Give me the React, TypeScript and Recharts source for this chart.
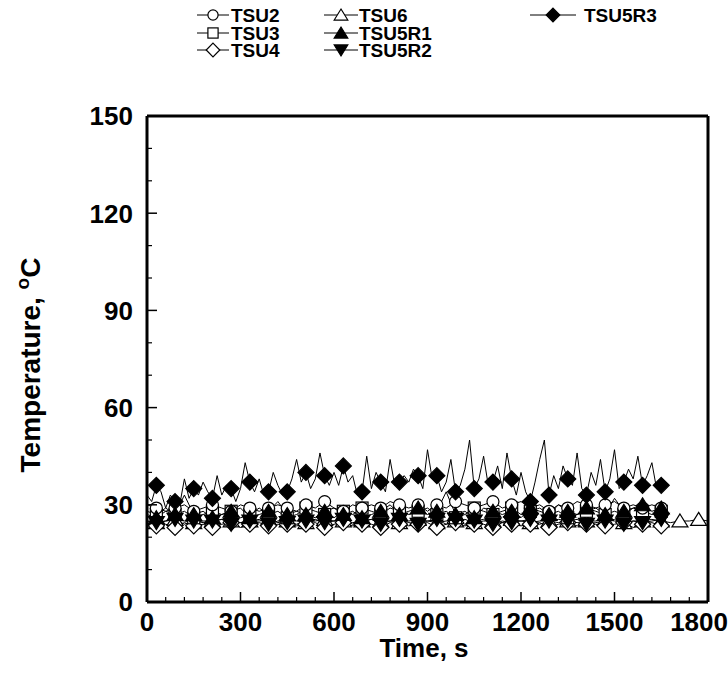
import React from 'react'
import { LineChart, Line, XAxis, YAxis } from 'recharts'

// sampling intervals of the logged traces (s)
const FINE_STEP = 15
const COARSE_STEP = 30

const xTicks = [0, 300, 600, 900, 1200, 1500, 1800]
const yTicks = [0, 30, 60, 90, 120, 150]
const xMinorTicks = Array.from({ length: 31 }, (_, i) => i * 60)
const yMinorTicks = Array.from({ length: 16 }, (_, i) => i * 10)

// TSU5R3 – fast, noisy trace (15 s samples, 0..1650 s)
const tsu5r3 = [
  33, 31, 36, 34, 29, 33, 31, 30, 38, 32, 35, 33, 37, 34, 32, 39,
  33, 36, 35, 31, 35, 43, 37, 34, 38, 33, 34, 40, 36, 33, 34, 38,
  44, 37, 40, 35, 38, 46, 39, 36, 40, 36, 42, 37, 39, 33, 34, 45,
  35, 40, 37, 34, 44, 36, 37, 39, 37, 41, 39, 35, 47, 38, 39, 34,
  37, 44, 34, 36, 41, 50, 35, 38, 45, 36, 37, 42, 35, 46, 38, 33,
  40, 34, 31, 37, 44, 50, 33, 39, 35, 42, 38, 36, 46, 35, 33, 40,
  36, 44, 34, 38, 47, 35, 37, 41, 38, 45, 36, 39, 43, 35, 36,
]

// 30 s samples, 0..1650 s
const tsu2 = [
  30, 29, 28, 29, 30, 28, 29, 30,
  29, 28, 30, 29, 28, 29, 30, 29,
  28, 30, 29, 31, 29, 28, 30, 29,
  30, 29, 31, 30, 29, 30, 28, 30,
  29, 31, 30, 29, 30, 31, 29, 30,
  31, 29, 30, 28, 30, 29, 31, 30,
  29, 30, 31, 29, 30, 29, 30, 29,
]
const tsu3 = [
  28, 27, 29, 27, 28, 26, 27, 28,
  27, 28, 26, 27, 29, 27, 28, 26,
  27, 29, 28, 27, 26, 28, 27, 29,
  28, 27, 29, 28, 27, 28, 29, 27,
  28, 26, 27, 29, 28, 27, 28, 29,
  27, 28, 29, 27, 28, 26, 27, 28,
  29, 27, 28, 27, 29, 28, 27, 28,
]
const tsu4 = [
  24, 23.5, 24, 23, 24.5, 23.5, 24, 23,
  24, 24.5, 23, 24, 24.5, 23.5, 24, 24,
  23.5, 24, 24.5, 23, 24, 24.5, 23.5, 24,
  24, 23, 24.5, 24, 23.5, 24, 24.5, 23,
  24, 24.5, 23.5, 24, 24, 23, 24.5, 24,
  23.5, 24, 24.5, 23, 24, 24.5, 23.5, 24,
  24, 23.5, 24, 24.5, 23, 24, 24.5, 23.5,
]
const tsu5r1 = [
  27, 26, 28, 27, 33, 27, 28, 26,
  27, 28, 29, 26, 27, 28, 31, 27,
  28, 27, 26, 28, 29, 27, 28, 26,
  27, 28, 30, 27, 28, 29, 27, 28,
  34, 27, 28, 26, 29, 28, 27, 28,
  26, 29, 28, 27, 30, 28, 27, 29,
  28, 27, 32, 28, 29, 30, 28, 29,
]
const tsu5r2 = [
  25, 24.5, 25, 25.5, 24, 25, 24.5, 25,
  25.5, 24, 24.5, 25, 25.5, 24, 25, 24.5,
  24, 25, 25.5, 24.5, 25, 25.5, 24, 25,
  25.5, 24, 25, 25.5, 24.5, 24, 25, 25.5,
  24, 25.5, 24, 25, 25.5, 24, 25, 24.5,
  25, 25.5, 24, 25, 24.5, 25, 25.5, 24,
  24.5, 25, 25.5, 24, 25, 24.5, 25, 25.5,
]
// 30 s samples, 0..1800 s
const tsu6 = [
  25, 24.5, 25, 25.5, 25, 24.5, 25, 25,
  25.5, 25, 24.5, 25, 25, 25.5, 24.5, 25,
  25, 24.5, 25, 25.5, 25, 25, 24.5, 25,
  25.5, 25, 25, 24.5, 25, 25.5, 25, 24.5,
  25, 25, 25.5, 24.5, 25, 25, 24.5, 25.5,
  25, 24.5, 25, 25, 25.5, 25, 24.5, 25,
  25, 25.5, 25, 24.5, 25, 25, 25.5, 25,
  24.5, 25, 25, 25.5, 25,
]

type Shape = 'circle' | 'square' | 'diamondOpen' | 'triangleOpen' | 'triangleUp' | 'triangleDown' | 'diamond'

interface Series {
  name: string
  shape: Shape
  step: number
  markEvery: number
  values: number[]
}

// drawing order: last one on top
const series: Series[] = [
  { name: 'TSU6', shape: 'triangleOpen', step: COARSE_STEP, markEvery: 2, values: tsu6 },
  { name: 'TSU4', shape: 'diamondOpen', step: COARSE_STEP, markEvery: 2, values: tsu4 },
  { name: 'TSU3', shape: 'square', step: COARSE_STEP, markEvery: 2, values: tsu3 },
  { name: 'TSU2', shape: 'circle', step: COARSE_STEP, markEvery: 2, values: tsu2 },
  { name: 'TSU5R2', shape: 'triangleDown', step: COARSE_STEP, markEvery: 2, values: tsu5r2 },
  { name: 'TSU5R1', shape: 'triangleUp', step: COARSE_STEP, markEvery: 2, values: tsu5r1 },
  { name: 'TSU5R3', shape: 'diamond', step: FINE_STEP, markEvery: 4, values: tsu5r3 },
]

// legend grid (column, row)
const legendLayout: [string, number, number][] = [
  ['TSU2', 0, 0], ['TSU3', 0, 1], ['TSU4', 0, 2],
  ['TSU6', 1, 0], ['TSU5R1', 1, 1], ['TSU5R2', 1, 2],
  ['TSU5R3', 2, 0],
]
const legendCols = [
  { x1: 197, x2: 229, text: 231 },
  { x1: 324, x2: 358, text: 359 },
  { x1: 530, x2: 576, text: 584 },
]
const legendRows = [15, 33, 50]

const FONT = '"Liberation Sans", Arial, Helvetica, sans-serif'

function Marker({ shape, x, y, s = 1 }: { shape: Shape; x: number; y: number; s?: number }) {
  const stroke = { stroke: '#000', strokeWidth: 1.2 }
  const d = 8 * s
  const tw = 8 * s
  const th = 7 * s
  switch (shape) {
    case 'circle':
      return <circle cx={x} cy={y} r={6 * s} fill="#fff" {...stroke} />
    case 'square':
      return <rect x={x - 6 * s} y={y - 6 * s} width={12 * s} height={12 * s} fill="#fff" {...stroke} />
    case 'diamondOpen':
      return <polygon points={`${x},${y - d} ${x + d},${y} ${x},${y + d} ${x - d},${y}`} fill="#fff" {...stroke} />
    case 'diamond':
      return <polygon points={`${x},${y - d} ${x + d},${y} ${x},${y + d} ${x - d},${y}`} fill="#000" {...stroke} />
    case 'triangleOpen':
      return <polygon points={`${x},${y - th} ${x + tw},${y + th * 0.85} ${x - tw},${y + th * 0.85}`} fill="#fff" {...stroke} />
    case 'triangleUp':
      return <polygon points={`${x},${y - th} ${x + tw},${y + th * 0.85} ${x - tw},${y + th * 0.85}`} fill="#000" {...stroke} />
    case 'triangleDown':
      return <polygon points={`${x},${y + th} ${x + tw},${y - th * 0.85} ${x - tw},${y - th * 0.85}`} fill="#000" {...stroke} />
  }
  return null
}

// inward tick marks (long on labelled values) plus the label on the outer side
function makeTick(side: 'bottom' | 'top' | 'left' | 'right', majors: number[], showLabel: boolean) {
  return (p: any) => {
    const v = p.payload?.value
    const major = majors.includes(v)
    const len = major ? 10 : 5
    const x = p.x
    const y = p.y
    let line
    if (side === 'bottom') line = <line x1={x} x2={x} y1={y} y2={y - len} />
    else if (side === 'top') line = <line x1={x} x2={x} y1={y} y2={y + len} />
    else if (side === 'left') line = <line x1={x} x2={x + len} y1={y} y2={y} />
    else line = <line x1={x} x2={x - len} y1={y} y2={y} />
    // the last x label is pulled inside the picture, as in the original
    const lastX = side === 'bottom' && v === xTicks[xTicks.length - 1]
    return (
      <g>
        <g stroke="#000" strokeWidth={major ? 1.5 : 1.2}>{line}</g>
        {showLabel && major && (
          <text
            x={side === 'left' ? x - 14 : lastX ? x + 20 : x}
            y={side === 'bottom' ? y + 29 : y}
            dy={side === 'left' ? '0.36em' : 0}
            textAnchor={side === 'left' || lastX ? 'end' : 'middle'}
            fontFamily={FONT}
            fontWeight="bold"
            fontSize={26}
            fill="#000"
          >
            {v}
          </text>
        )}
      </g>
    )
  }
}

export default function App() {
  const axisLine = { stroke: '#000', strokeWidth: 3 }

  return (
    <div style={{ position: 'relative', width: 728, height: 686 }}>
      <style>{'body{margin:0}'}</style>
      <LineChart width={728} height={686} margin={{ top: 115, right: 19, bottom: 83, left: 146 }}>
        <XAxis xAxisId="x" type="number" dataKey="t" domain={[0, 1800]} ticks={xMinorTicks} interval={0}
          height={1} stroke="#000" strokeWidth={3} axisLine={axisLine} tickLine={false} tickSize={0} tickMargin={0}
          tick={makeTick('bottom', xTicks, true)} />
        <XAxis xAxisId="top" orientation="top" type="number" dataKey="t" domain={[0, 1800]} ticks={xMinorTicks} interval={0}
          height={1} stroke="#000" strokeWidth={3} axisLine={axisLine} tickLine={false} tickSize={0} tickMargin={0}
          tick={makeTick('top', xTicks, false)} />
        <YAxis yAxisId="y" type="number" domain={[0, 150]} ticks={yMinorTicks} interval={0}
          width={1} stroke="#000" strokeWidth={3} axisLine={axisLine} tickLine={false} tickSize={0} tickMargin={0}
          tick={makeTick('left', yTicks, true)} />
        <YAxis yAxisId="right" orientation="right" type="number" domain={[0, 150]} ticks={yMinorTicks} interval={0}
          width={1} stroke="#000" strokeWidth={3} axisLine={axisLine} tickLine={false} tickSize={0} tickMargin={0}
          tick={makeTick('right', yTicks, false)} />

        {series.map((s) => (
          <Line
            key={s.name}
            xAxisId="x"
            yAxisId="y"
            name={s.name}
            data={s.values.map((v, i) => ({ t: i * s.step, v }))}
            dataKey="v"
            type="linear"
            stroke="#000"
            strokeWidth={1}
            activeDot={false}
            legendType="none"
            isAnimationActive={false}
            dot={(p: any) => {
              const k = p.index % s.markEvery
              if (k !== s.markEvery / 2 || p.cx == null || p.cy == null) return <g key={`${s.name}-${p.index}`} />
              return (
                <g key={`${s.name}-${p.index}`}>
                  <Marker shape={s.shape} x={p.cx} y={p.cy} />
                </g>
              )
            }}
          />
        ))}
      </LineChart>

      <svg width={728} height={686} style={{ position: 'absolute', left: 0, top: 0, pointerEvents: 'none' }}>
        {legendLayout.map(([name, c, r]) => {
          const s = series.find((x) => x.name === name)!
          const col = legendCols[c]
          const y = legendRows[r]
          return (
            <g key={name}>
              <line x1={col.x1} x2={col.x2} y1={y} y2={y} stroke="#000" strokeWidth={1} />
              <Marker shape={s.shape} x={(col.x1 + col.x2) / 2} y={y} s={0.85} />
              <text x={col.text} y={y} dy="0.36em" fontFamily={FONT} fontWeight="bold" fontSize={19} fill="#000">
                {name}
              </text>
            </g>
          )
        })}
        <text x={424} y={657} textAnchor="middle" fontFamily={FONT} fontWeight="bold" fontSize={26} fill="#000">
          Time, s
        </text>
        <text transform="translate(40,365) rotate(-90)" textAnchor="middle" fontFamily={FONT} fontWeight="bold" fontSize={28} fill="#000">
          Temperature, <tspan dy={-11} fontSize={19}>o</tspan><tspan dy={11}>C</tspan>
        </text>
      </svg>
    </div>
  )
}
